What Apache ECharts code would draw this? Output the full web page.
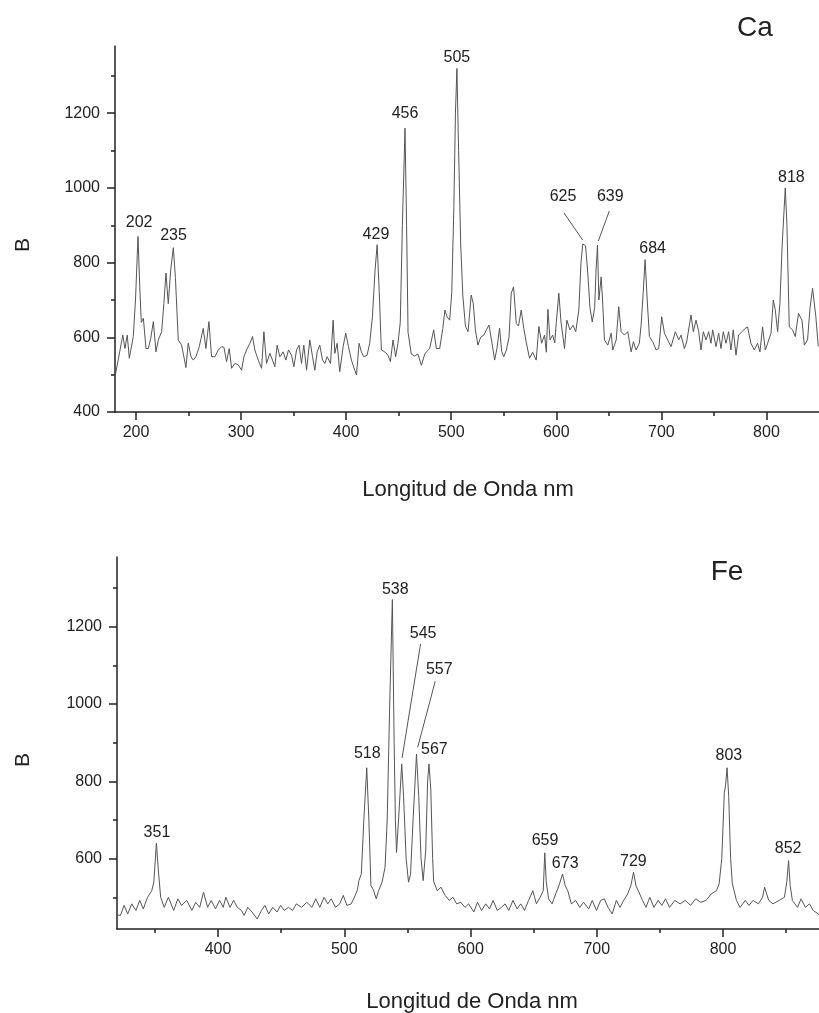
<!DOCTYPE html>
<html>
<head>
<meta charset="utf-8">
<script src="https://cdn.jsdelivr.net/npm/echarts@6/dist/echarts.min.js"></script>
<style>
html, body { margin: 0; padding: 0; background: #fff; }
#chart { width: 819px; height: 1013px; }
</style>
</head>
<body>
<div id="chart"></div>
<script>
// Ca spectrum: [wavelength nm, B]
const caSpectrum = [
  [180,494],[184.8,566],[187.4,606],[189.5,570],[191.7,606],[193.6,544],[197.4,602],[199.5,700],[201.9,870],[203.5,740],
  [205,640],[207,651],[209.5,570],[211.7,570],[214,597],[216.5,642],[219,561],[221.2,593],[224.4,615],[226.5,690],
  [228.5,772],[230.7,690],[233,780],[235.5,840],[237.5,760],[240.2,593],[243.4,579],[247.5,519],[249.7,584],[252.3,548],
  [254.5,539],[257,548],[260.2,575],[264,624],[266.5,570],[269.4,642],[271.9,548],[275.1,548],[278.3,566],[281.4,575],
  [283.7,573],[286.2,535],[288.7,570],[291,517],[294.1,530],[297.3,526],[300.5,512],[302.7,548],[305.2,566],[308.4,584],
  [310.9,602],[313.1,566],[316.3,539],[319.5,517],[321.7,615],[324.2,530],[327.4,557],[329.9,539],[332.1,521],[334.3,579],
  [336.9,548],[340,561],[342.6,539],[345.1,566],[348,552],[350.2,521],[352.8,566],[355.2,579],[357.5,530],[359.7,579],
  [362.3,512],[365.4,593],[368,548],[370.2,512],[372.4,561],[374.9,579],[377.5,539],[379.7,530],[381.9,548],[385.1,530],
  [387.6,646],[389.2,557],[391.4,584],[393.9,508],[397.1,575],[399.6,611],[402.2,575],[405,539],[408.2,512],[409.8,499],
  [412.3,584],[414.5,561],[416.7,548],[419.9,552],[422.4,584],[425,655],[427.5,780],[429.5,848],[431.5,720],[433.5,566],
  [436.7,561],[439.8,552],[442.1,535],[444.6,593],[447.1,548],[449.3,584],[451.5,640],[453.5,900],[456,1160],[457.5,900],
  [458.9,613],[462,555],[465,550],[468.3,555],[471.6,525],[474.8,555],[477,563],[479.5,570],[483.3,620],[485.8,570],
  [489,570],[492,624],[494,673],[496,655],[498.5,646],[500.5,720],[502.5,950],[504,1200],[505.4,1320],[507,1100],
  [509,850],[511,713],[513.5,630],[516,615],[519,713],[521,690],[523,620],[525.4,579],[528,600],[531,606],
  [533.5,620],[535.9,633],[538.5,590],[541.3,539],[543.5,570],[546,625],[548,562],[550,548],[552.5,566],[555,600],
  [557.1,718],[559.3,735],[560.8,680],[561.9,637],[564,630],[566.6,673],[569,624],[571.5,585],[574.5,544],[577.5,560],
  [580.9,539],[583.4,629],[586,584],[588.8,606],[590.5,560],[592,675],[594,593],[596.5,606],[598.5,585],[600,640],
  [602.4,718],[604.5,640],[607.8,570],[610,646],[613,620],[616,632],[618.5,615],[621.4,673],[623.5,800],[625.2,850],
  [627.8,845],[630,770],[632,680],[634.2,641],[636.5,680],[637.8,780],[639.2,847],[640.5,700],[642.7,762],[644,700],
  [645.8,593],[649,579],[652.2,611],[653.7,566],[657,593],[659.4,682],[661.7,615],[664.8,606],[668,615],[671.2,561],
  [673.4,588],[675.9,566],[679,584],[680.7,633],[682.7,720],[684.5,808],[686.5,700],[688.6,602],[691.8,588],[695,566],
  [697.5,570],[700.3,655],[702.9,611],[706,593],[709.2,575],[713.3,615],[716.5,593],[718.7,606],[721.9,570],[724.1,588],
  [728.2,660],[730.4,615],[733,646],[735.5,615],[737.7,566],[739.9,615],[742.5,593],[745,615],[747.2,584],[748.8,620],
  [752,575],[754.5,611],[756.7,570],[758.9,615],[761.5,584],[764,615],[766.2,566],[768.4,620],[771,552],[773.5,606],
  [776.7,615],[779.8,624],[782,628],[785.2,584],[788.4,566],[791.5,584],[793.8,561],[796.3,628],[798.9,566],[801.1,584],
  [804.3,611],[806.5,700],[808.4,673],[810.6,615],[812.8,691],[815,850],[817.9,1000],[819.5,900],[821.7,628],[824.8,620],
  [827.4,602],[830.5,664],[833.8,646],[836,579],[839.1,593],[841.5,680],[843.9,731],[847,655],[849.2,579],[850,575]
];

// Fe spectrum: [wavelength nm, B]
const feSpectrum = [
  [320,455],[322.7,453],[325.6,479],[328.5,457],[331.7,483],[335,466],[338,492],[340.8,470],[344.2,500],[347.5,517],
  [349.2,540],[351.2,640],[353,560],[354.6,500],[357.4,474],[360.7,500],[364.9,466],[368.2,496],[371.1,479],[375.2,492],
  [379.3,466],[382.3,487],[385.5,474],[388.5,513],[391.8,474],[394.6,492],[398,470],[401.3,492],[404.1,474],[406.2,500],
  [409.5,474],[412.4,492],[415.3,474],[418.6,466],[420.7,453],[423.6,474],[426.9,462],[431,444],[434.4,466],[437.2,479],
  [440.1,457],[443.4,474],[446.7,462],[449.6,479],[452.5,466],[455.8,474],[459.1,466],[462,483],[466.2,474],[470.3,487],
  [474.4,474],[477.4,496],[480.6,474],[484,500],[486.9,483],[489.7,496],[493.1,474],[496.4,483],[499.2,505],[502.1,479],
  [505.5,483],[508.7,505],[510.5,520],[511.6,543],[513.5,560],[515.5,700],[517.8,835],[519.5,700],[521.1,530],[523,520],
  [525.3,496],[527,515],[528.2,517],[530,540],[532.3,578],[534,700],[536,1000],[538.1,1270],[539.5,900],[540.5,700],
  [541.4,616],[543,700],[545.5,845],[547,760],[549,600],[550.9,539],[552.5,560],[554.5,700],[557.2,870],[559,760],
  [560.8,600],[562.5,543],[564.5,620],[566,800],[567.1,845],[568.5,780],[570,600],[570.8,541],[573.6,517],[576.6,526],
  [579.9,505],[583.1,492],[586.1,500],[589,483],[592.2,487],[595.6,474],[598.5,483],[602.6,462],[605.5,487],[608.8,466],
  [612.1,483],[615,470],[617.9,492],[621.2,466],[624.5,474],[627.4,483],[630.3,466],[633.6,492],[636.9,470],[639.8,483],
  [642.7,466],[646,492],[649.3,517],[652.2,483],[655.1,500],[657.6,517],[658.8,615],[660,540],[661.8,496],[664.6,483],
  [667.5,509],[670,530],[672.9,560],[675,530],[677,517],[679.9,483],[683.2,492],[686.5,474],[689.5,487],[693.6,470],
  [696.4,492],[699.8,466],[703.1,492],[706,496],[708.9,474],[712.2,457],[715.5,492],[718.4,474],[721.3,492],[724.5,509],
  [727,530],[729.1,565],[731,530],[732.9,517],[736.2,492],[739,474],[742,500],[745.3,474],[748.6,492],[751.5,479],
  [754.4,496],[757.7,474],[761.8,492],[766,483],[770.1,492],[774.2,479],[778.3,496],[782.4,487],[786.6,492],[790.7,509],
  [794.8,517],[796.9,535],[799,600],[801,770],[802,790],[803.2,835],[804.5,760],[806,600],[807.3,537],[810.6,492],
  [813.5,474],[817.6,492],[820.5,479],[823.8,492],[828,483],[831.3,500],[832.9,526],[836.2,492],[839.5,483],[844.5,492],
  [848.6,500],[850.5,540],[851.9,595],[853.2,530],[854.9,492],[859,474],[861.8,496],[865.2,474],[868.5,483],[871.4,466],
  [875.5,457],[876,455]
];

const caPeaks = [202, 235, 429, 456, 505, 625, 639, 684, 818];
const fePeaks = [351, 518, 538, 545, 557, 567, 659, 673, 729, 803, 852];

const caXTicks = [200, 300, 400, 500, 600, 700, 800];
const caXMinor = [250, 350, 450, 550, 650, 750];
const caYTicks = [400, 600, 800, 1000, 1200];
const feXTicks = [400, 500, 600, 700, 800];
const feXMinor = [350, 450, 550, 650, 750, 850];
const feYTicks = [600, 800, 1000, 1200];
const yMinor = [500, 700, 900, 1100, 1300];

// label placement (pixel offsets from the peak top), leader lines where needed
const caLabelPos = {
  202: { dx: 1, dy: -13.5 }, 235: { dx: 0.7, dy: -11.6 }, 429: { dx: -0.7, dy: -10 },
  456: { dx: 0, dy: -15 }, 505: { dx: 0.4, dy: -10.6 },
  625: { dx: -19.6, dy: -47, lead: [-18.6, -31, 0, -4] },
  639: { dx: 13, dy: -48, lead: [12, -34, 1, -4] },
  684: { dx: 8, dy: -10.6 }, 818: { dx: 6, dy: -10 }
};
const feLabelPos = {
  351: { dx: 0.8, dy: -10.5 }, 518: { dx: 0.3, dy: -14 }, 538: { dx: 3, dy: -10.4 },
  545: { dx: 22, dy: -130, lead: [19.5, -120, 1, -6] },
  557: { dx: 23, dy: -85, lead: [19, -73, 1.5, -7] },
  567: { dx: 5.5, dy: -14 }, 659: { dx: 0, dy: -12 }, 673: { dx: 2.5, dy: -10.5 },
  729: { dx: 0, dy: -10.6 }, 803: { dx: 2, dy: -12 }, 852: { dx: -0.6, dy: -12 }
};

const FONT = '"Liberation Sans", Arial, sans-serif';
const INK = '#222';

function peakTop(spec, nm) {
  let best = 0;
  spec.forEach(p => { if (Math.abs(p[0] - nm) <= 2 && p[1] > best) best = p[1]; });
  return best;
}

function xAxisPair(gridIndex, min, max, ticks, minor) {
  const base = {
    gridIndex, type: 'value', min, max, position: 'bottom',
    splitLine: { show: false }
  };
  return [
    Object.assign({}, base, {
      axisLine: { show: true, onZero: false, lineStyle: { color: INK, width: 1.5 } },
      axisTick: { show: true, customValues: ticks, length: 8, lineStyle: { color: INK, width: 1.5 } },
      axisLabel: {
        show: true, customValues: ticks, margin: 13, fontSize: 16, color: INK, fontFamily: FONT,
        formatter: v => String(v)
      }
    }),
    Object.assign({}, base, {
      axisLine: { show: false, onZero: false },
      axisTick: { show: true, customValues: minor, length: 4, lineStyle: { color: INK, width: 1.5 } },
      axisLabel: { show: false }
    })
  ];
}

function yAxisPair(gridIndex, min, max, ticks, minor) {
  const base = {
    gridIndex, type: 'value', min, max, position: 'left',
    splitLine: { show: false }
  };
  return [
    Object.assign({}, base, {
      axisLine: { show: true, onZero: false, lineStyle: { color: INK, width: 1.5 } },
      axisTick: { show: true, customValues: ticks, length: 8, lineStyle: { color: INK, width: 1.5 } },
      axisLabel: {
        show: true, customValues: ticks, margin: 15, fontSize: 16, color: INK, fontFamily: FONT,
        formatter: v => String(v)
      }
    }),
    Object.assign({}, base, {
      axisLine: { show: false, onZero: false },
      axisTick: { show: true, customValues: minor, length: 4, lineStyle: { color: INK, width: 1.5 } },
      axisLabel: { show: false }
    })
  ];
}

function labelSeries(peaks, spec, pos, xi, yi) {
  return {
    type: 'custom', xAxisIndex: xi, yAxisIndex: yi, silent: true, z: 5, clip: false,
    data: peaks.map(p => [p, peakTop(spec, p)]),
    renderItem(params, api) {
      const nm = api.value(0);
      const pt = api.coord([nm, api.value(1)]);
      const s = pos[nm];
      const children = [{
        type: 'text', x: pt[0] + s.dx, y: pt[1] + s.dy,
        style: { text: String(nm), fill: INK, font: '16px ' + FONT, align: 'center', verticalAlign: 'middle' }
      }];
      if (s.lead) {
        children.push({
          type: 'line',
          shape: { x1: pt[0] + s.lead[0], y1: pt[1] + s.lead[1], x2: pt[0] + s.lead[2], y2: pt[1] + s.lead[3] },
          style: { stroke: '#555', lineWidth: 1 }
        });
      }
      return { type: 'group', children };
    }
  };
}

function titleText(text, x, y, size, rotation) {
  return {
    type: 'text', x, y, rotation: rotation || 0,
    style: { text, fill: INK, font: size + 'px ' + FONT, align: 'center', verticalAlign: 'middle' }
  };
}

const chart = echarts.init(document.getElementById('chart'), null, { renderer: 'canvas' });

chart.setOption({
  animation: false,
  backgroundColor: '#fff',
  grid: [
    { left: 115, top: 46, width: 704, height: 366 },
    { left: 117, top: 557, width: 702, height: 372 }
  ],
  xAxis: [
    ...xAxisPair(0, 180, 850, caXTicks, caXMinor),
    ...xAxisPair(1, 320, 876, feXTicks, feXMinor)
  ],
  yAxis: [
    ...yAxisPair(0, 400, 1380, caYTicks, yMinor),
    ...yAxisPair(1, 418, 1380, feYTicks, yMinor)
  ],
  graphic: [
    titleText('Ca', 755, 28, 28),
    titleText('Fe', 727, 572, 28),
    titleText('B', 23, 245, 21, Math.PI / 2),
    titleText('B', 23, 760, 21, Math.PI / 2),
    titleText('Longitud de Onda nm', 468, 490, 22),
    titleText('Longitud de Onda nm', 472, 1002, 22)
  ],
  series: [
    {
      type: 'line', xAxisIndex: 0, yAxisIndex: 0, data: caSpectrum,
      showSymbol: false, symbol: 'none', silent: true,
      lineStyle: { color: '#555', width: 1 }
    },
    {
      type: 'line', xAxisIndex: 2, yAxisIndex: 2, data: feSpectrum,
      showSymbol: false, symbol: 'none', silent: true,
      lineStyle: { color: '#555', width: 1 }
    },
    labelSeries(caPeaks, caSpectrum, caLabelPos, 0, 0),
    labelSeries(fePeaks, feSpectrum, feLabelPos, 2, 2)
  ]
});
</script>
</body>
</html>
